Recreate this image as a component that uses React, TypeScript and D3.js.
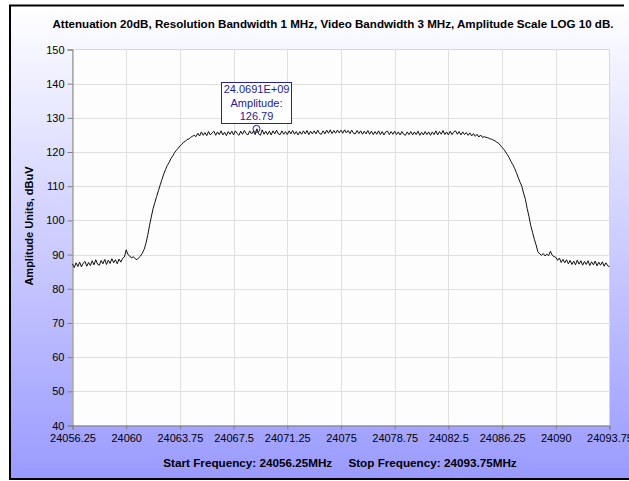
import React, { useEffect, useRef } from 'react';
import * as d3 from 'd3';

// sweep settings
const startFreq = 24056.25;
const stopFreq = 24093.75;
const xTicks = [24056.25, 24060, 24063.75, 24067.5, 24071.25, 24075, 24078.75, 24082.5, 24086.25, 24090, 24093.75];
const yTicks = [40, 50, 60, 70, 80, 90, 100, 110, 120, 130, 140, 150];

// trace amplitudes, dBuV, one every 0.125 MHz from start to stop (301 points)
const amplitudes = [
  87.3, 86.2, 87.6, 86.5, 87.8, 86.4, 87.5, 88.0, 86.6, 87.7,
  86.8, 88.2, 87.0, 88.5, 87.2, 86.9, 88.3, 87.3, 88.6, 87.1,
  88.4, 87.4, 88.8, 87.6, 88.5, 87.3, 88.7, 87.8, 88.9, 89.3,
  91.4, 90.0, 89.6, 89.0, 89.4, 88.8, 88.5, 89.1, 89.6, 90.4,
  91.5, 93.2, 95.6, 98.4, 101.0, 103.4, 105.2, 107.0, 108.7, 110.4,
  112.0, 113.6, 114.9, 116.1, 117.0, 118.1, 118.9, 119.8, 120.5, 121.1,
  121.8, 122.2, 122.9, 123.1, 123.7, 123.8, 124.3, 124.6, 124.9, 124.5,
  125.5, 124.7, 125.9, 124.9, 125.7, 124.8, 126.0, 125.0, 125.6, 126.1,
  124.9, 125.9, 125.1, 126.2, 125.0, 125.8, 124.8, 126.0, 125.2, 126.1,
  125.0, 126.2, 125.4, 124.9, 126.1, 125.2, 126.3, 125.4, 125.0, 126.2,
  125.3, 126.1, 125.1, 126.79, 125.3, 124.9, 126.5, 125.2, 126.1, 125.1,
  126.1, 125.0, 126.2, 125.3, 126.4, 125.3, 125.1, 126.2, 125.2, 126.0,
  125.1, 126.2, 125.3, 126.3, 125.2, 126.0, 125.0, 126.0, 125.2, 126.2,
  125.3, 126.3, 125.1, 126.1, 125.3, 126.2, 125.3, 126.4, 125.4, 125.2,
  126.2, 125.3, 126.4, 125.5, 126.5, 125.4, 126.3, 125.5, 126.4, 125.6,
  126.4, 125.5, 126.5, 125.6, 126.3, 125.4, 126.4, 125.5, 125.3, 126.3,
  125.4, 126.2, 125.2, 126.1, 125.3, 126.3, 125.2, 126.1, 125.1, 126.0,
  125.2, 126.2, 125.1, 126.0, 125.0, 125.9, 126.1, 125.1, 126.0, 125.2,
  126.1, 125.1, 125.9, 125.0, 126.0, 125.2, 124.9, 125.9, 125.1, 126.0,
  125.0, 125.9, 125.1, 126.1, 124.9, 125.8, 125.0, 126.0, 125.1, 125.9,
  124.9, 125.9, 125.1, 126.2, 125.0, 126.0, 125.2, 126.3, 125.1, 125.9,
  125.0, 126.1, 125.1, 125.9, 126.2, 125.2, 126.0, 125.0, 125.9, 125.1,
  125.7, 124.9, 125.6, 124.7, 125.4, 124.6, 125.2, 124.4, 125.0, 124.3,
  124.5, 124.3, 124.2, 123.9, 123.8, 123.5, 123.3, 122.9, 122.6, 122.0,
  121.3, 120.8, 120.0, 119.2, 118.3, 117.2, 116.3, 115.2, 114.0, 112.5,
  111.2, 110.0, 108.0, 106.2, 103.5, 101.2, 98.5, 96.5, 94.5, 92.8,
  90.8, 90.2, 89.8, 90.3, 89.6, 90.1, 89.7, 91.0, 89.8, 89.4,
  89.2, 88.3, 89.0, 87.7, 88.6, 87.6, 88.5, 87.3, 88.3, 87.1,
  88.1, 87.0, 88.4, 87.2, 88.2, 86.9, 88.0, 87.1, 88.2, 86.8,
  87.9, 87.0, 88.1, 86.7, 87.8, 86.9, 87.9, 86.6, 87.6, 86.7, 86.5,
];

// marker readout
const markerFreq = 24069.1;
const markerAmp = 126.79;
const markerLines = ['24.0691E+09', 'Amplitude:', '126.79'];

const title = 'Attenuation 20dB, Resolution Bandwidth 1 MHz, Video Bandwidth 3 MHz, Amplitude Scale LOG 10 dB.';
const yTitle = 'Amplitude Units, dBuV';
const footer = 'Start Frequency: 24056.25MHz     Stop Frequency: 24093.75MHz';

export default function App() {
  const ref = useRef<SVGSVGElement | null>(null);

  useEffect(() => {
    const width = 629, height = 481;
    const m = { left: 72.5, right: 609.5, top: 49.5, bottom: 425.5 };
    const font = '"Liberation Sans", Arial, sans-serif';
    const svg = d3.select(ref.current);
    svg.selectAll('*').remove();

    const grad = svg.append('defs').append('linearGradient')
      .attr('id', 'bg').attr('x1', 0).attr('y1', 0).attr('x2', 0).attr('y2', 1);
    grad.append('stop').attr('offset', '0%').attr('stop-color', '#ffffff');
    grad.append('stop').attr('offset', '100%').attr('stop-color', '#9a9aff');

    svg.append('rect').attr('width', width).attr('height', height).attr('fill', '#fff');
    svg.append('rect').attr('x', 10).attr('y', 5).attr('width', width - 10).attr('height', 475).attr('fill', 'url(#bg)');
    // frame (left, top, bottom)
    svg.append('path').attr('d', 'M10,480 V5.5 H624 M10,479 H629')
      .attr('fill', 'none').attr('stroke', '#000').attr('stroke-width', 2);

    const x = d3.scaleLinear().domain([startFreq, stopFreq]).range([m.left, m.right]);
    const y = d3.scaleLinear().domain([40, 150]).range([m.bottom, m.top]);

    svg.append('rect').attr('x', m.left).attr('y', m.top)
      .attr('width', m.right - m.left).attr('height', m.bottom - m.top)
      .attr('fill', '#fdfdfd').attr('stroke', '#d8d8d8');

    const grid = svg.append('g').attr('stroke', '#e0e0e0').attr('stroke-width', 1);
    xTicks.slice(1, -1).forEach(t => {
      grid.append('line').attr('x1', Math.round(x(t)) + 0.5).attr('x2', Math.round(x(t)) + 0.5)
        .attr('y1', m.top).attr('y2', m.bottom);
    });
    yTicks.slice(1, -1).forEach(t => {
      grid.append('line').attr('y1', Math.round(y(t)) + 0.5).attr('y2', Math.round(y(t)) + 0.5)
        .attr('x1', m.left).attr('x2', m.right);
    });

    const xAxis = svg.append('g').attr('transform', `translate(0,${m.bottom})`)
      .call(d3.axisBottom(x).tickValues(xTicks).tickSize(4).tickPadding(5).tickFormat(d => String(d)));
    const yAxis = svg.append('g').attr('transform', `translate(${m.left},0)`)
      .call(d3.axisLeft(y).tickValues(yTicks).tickSize(5).tickPadding(3).tickFormat(d => String(d)));
    [xAxis, yAxis].forEach(a => {
      a.select('.domain').attr('stroke', '#808080');
      a.selectAll('.tick line').attr('stroke', '#808080');
      a.selectAll('text').attr('fill', '#000').style('font-family', font).style('font-size', '11px');
    });

    const line = d3.line<number>()
      .x((d, i) => x(startFreq + (i * (stopFreq - startFreq)) / (amplitudes.length - 1)))
      .y(d => y(d));
    svg.append('path').datum(amplitudes).attr('d', line)
      .attr('fill', 'none').attr('stroke', '#111').attr('stroke-width', 1);

    // marker
    const mx = x(markerFreq), my = y(markerAmp);
    svg.append('circle').attr('cx', mx).attr('cy', my).attr('r', 3.5)
      .attr('fill', 'none').attr('stroke', '#22229a').attr('stroke-width', 1);
    svg.append('rect').attr('x', mx - 35).attr('y', 82.5).attr('width', 70).attr('height', 41)
      .attr('fill', '#fff').attr('stroke', '#22229a').attr('stroke-width', 1);
    svg.append('g').selectAll('text').data(markerLines).enter().append('text')
      .attr('x', mx).attr('y', (d, i) => 93 + i * 13.5)
      .attr('text-anchor', 'middle').attr('fill', '#22229a')
      .style('font-family', font).style('font-size', '11px')
      .text(d => d);

    svg.append('text').attr('x', 333).attr('y', 28).attr('text-anchor', 'middle')
      .style('font-family', font).style('font-size', '11.6px').style('font-weight', 'bold')
      .text(title);
    svg.append('text').attr('transform', 'translate(33,226) rotate(-90)').attr('text-anchor', 'middle')
      .style('font-family', font).style('font-size', '11px').style('font-weight', 'bold')
      .text(yTitle);
    svg.append('text').attr('x', 340).attr('y', 467).attr('text-anchor', 'middle')
      .style('font-family', font).style('font-size', '11.7px').style('font-weight', 'bold')
      .style('white-space', 'pre')
      .text(footer);
  }, []);

  return (
    <div style={{ position: 'absolute', left: 0, top: 0 }}>
      <svg ref={ref} width={629} height={481} style={{ display: 'block' }} />
    </div>
  );
}
